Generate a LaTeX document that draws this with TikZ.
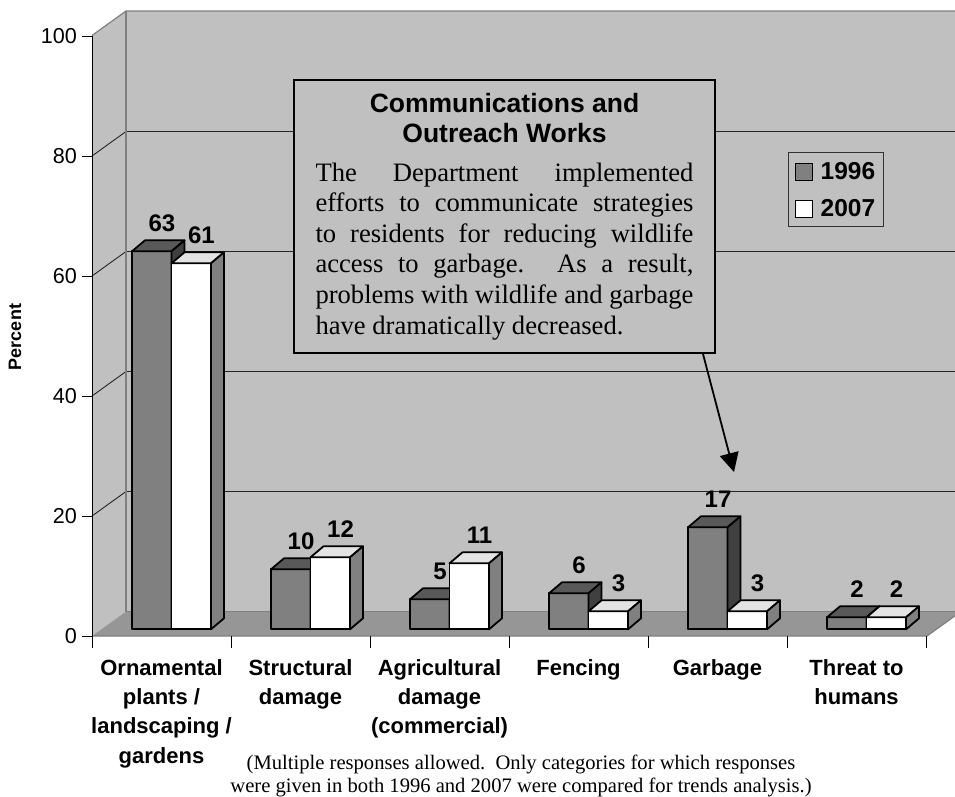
\documentclass[tikz,border=0pt]{standalone}
\usepackage{fontspec}
\setmainfont{Liberation Serif}
\setsansfont{Liberation Sans}
\usetikzlibrary{positioning,arrows.meta}
\definecolor{wallgray}{HTML}{C0C0C0}
\definecolor{floorgray}{HTML}{969696}
\definecolor{edgegray}{HTML}{808080}
\definecolor{darkfront}{HTML}{808080}
\definecolor{darktop}{HTML}{595959}
\definecolor{darkside}{HTML}{404040}
\definecolor{lighttop}{HTML}{E3E3E3}
\definecolor{lightside}{HTML}{808080}
\newcommand{\drawbar}[5]{%
        \pgfmathsetmacro{\barx}{#1}
        \pgfmathsetmacro{\bartop}{629.3-6*#2}
        \filldraw[barline, fill=#3] (\barx,629.3) rectangle (\barx+39.5,\bartop);
        \filldraw[barline, fill=#4] (\barx,\bartop) -- (\barx+13,\bartop-11) -- (\barx+52.5,\bartop-11) -- (\barx+39.5,\bartop) -- cycle;
        \filldraw[barline, fill=#5] (\barx+39.5,629.3) -- (\barx+39.5,\bartop) -- (\barx+52.5,\bartop-11) -- (\barx+52.5,618.3) -- cycle;
}
\begin{document}
\begin{tikzpicture}[x=1pt, y=-1pt,
        edge/.style={draw=edgegray, line width=1.2pt},
        gridline/.style={draw=black!85, line width=0.9pt},
        barline/.style={draw=black, line width=1.8pt, line join=round},
        ticklabel/.style={font=\sffamily\fontsize{21.6}{22}\selectfont, anchor=east, inner sep=0pt},
        vallabel/.style={font=\sffamily\bfseries\fontsize{24}{24}\selectfont, anchor=base, inner sep=0pt},
        catlabel/.style={font=\sffamily\bfseries\fontsize{22}{29.3}\selectfont, align=center, anchor=north, inner sep=0pt},
        callout/.style={draw=black, line width=2pt, fill=wallgray, text width=378pt, inner xsep=21.5pt, minimum height=273pt, align=justify, anchor=north west},
        pointer/.style={line width=1.8pt, -{Triangle[length=19pt,width=19pt]}},
        keybox/.style={draw=black, line width=1pt, minimum size=17pt, inner sep=0pt},
        legtext/.style={font=\sffamily\bfseries\fontsize{24.5}{25}\selectfont, inner sep=0pt}]
        \clip (0,0) rectangle (955,796);
        \fill[wallgray] (126,11) rectangle (960,611.5);
        \fill[wallgray] (92,35.5) -- (126,11) -- (126,611.5) -- (92,636) -- cycle;
        \fill[floorgray] (92,636) -- (126,611.5) -- (961,611.5) -- (927,636) -- cycle;
        \foreach \v in {20,40,60,80}{
            \draw[gridline] (92,636-6*\v) -- (126,611.5-6*\v) -- (960,611.5-6*\v);
        }
        \draw[edge] (92,35.5) -- (126,11) -- (960,11);
        \draw[edge] (126,11) -- (126,611.5) -- (961,611.5);
        \draw[edge] (92,636) -- (927,636) -- (961,611.5);
        \draw[black, line width=1pt] (92,35.5) -- (92,648);
        \foreach \k in {1,...,6}{
            \draw[black, line width=1pt] (92+139*\k,636) -- (92+139*\k,648);
        }
        \foreach \v in {0,20,...,100}{
            \draw[black, line width=1pt] (82,636-6*\v) -- (92,636-6*\v);
            \node[ticklabel] (y\v) at (77,636-6*\v) {\v};
        }
        \node[rotate=90, inner sep=0pt, font=\sffamily\bfseries\fontsize{18}{18}\selectfont] (ylab) at (15,337) {Percent};
        \foreach \k/\a/\b in {0/63/61, 1/10/12, 2/5/11, 3/6/3, 4/17/3, 5/2/2}{
            \pgfmathsetmacro{\xa}{132+139*\k}
            \pgfmathsetmacro{\xb}{\xa+39.5}
            \drawbar{\xa}{\a}{darkfront}{darktop}{darkside}
            \drawbar{\xb}{\b}{white}{lighttop}{lightside}
            \node[vallabel] (va\k) at (\xa+30,629.3-6*\a-20) {\a};
            \node[vallabel] (vb\k) at (\xb+30,629.3-6*\b-20) {\b};
        }
        \foreach \k/\txt in {0/{Ornamental\\plants /\\landscaping /\\gardens}, 1/{Structural\\damage}, 2/{Agricultural\\damage\\(commercial)}, 3/{Fencing}, 4/{Garbage}, 5/{Threat to\\humans}}{
            \node[catlabel] (c\k) at (161.5+139*\k,659) {\txt};
        }
        \node[callout] (note) at (293,79) {{\centering\sffamily\bfseries\fontsize{26.5}{30}\selectfont Communications and\\Outreach Works\par}\vspace{8pt}{\fontsize{26.6}{30.6}\selectfont The Department implemented\linebreak efforts to communicate strategies\linebreak to residents for reducing wildlife\linebreak access to garbage.  As a result,\linebreak problems with wildlife and garbage\linebreak have dramatically decreased.\par}};
        \coordinate (tip) at (734,472);
        \draw[pointer] ([xshift=-13pt]note.south east) -- (tip);
        \node[draw=black!80, line width=1pt, fill=wallgray, minimum width=95pt, minimum height=74pt, anchor=north west] (legend) at (788,152) {};
        \node[keybox, fill=darkfront] (k96) at (803.5,171.5) {};
        \node[keybox, fill=white] (k07) at (803.5,208.5) {};
        \node[legtext, right=8pt of k96] (t96) {1996};
        \node[legtext, right=8pt of k07] (t07) {2007};
        \node[align=center, anchor=north, inner sep=0pt, font=\fontsize{20.6}{22.5}\selectfont] (foot) at (521,755) {(Multiple responses allowed.\ \ Only categories for which responses\\were given in both 1996 and 2007 were compared for trends analysis.)};
\end{tikzpicture}
\end{document}
